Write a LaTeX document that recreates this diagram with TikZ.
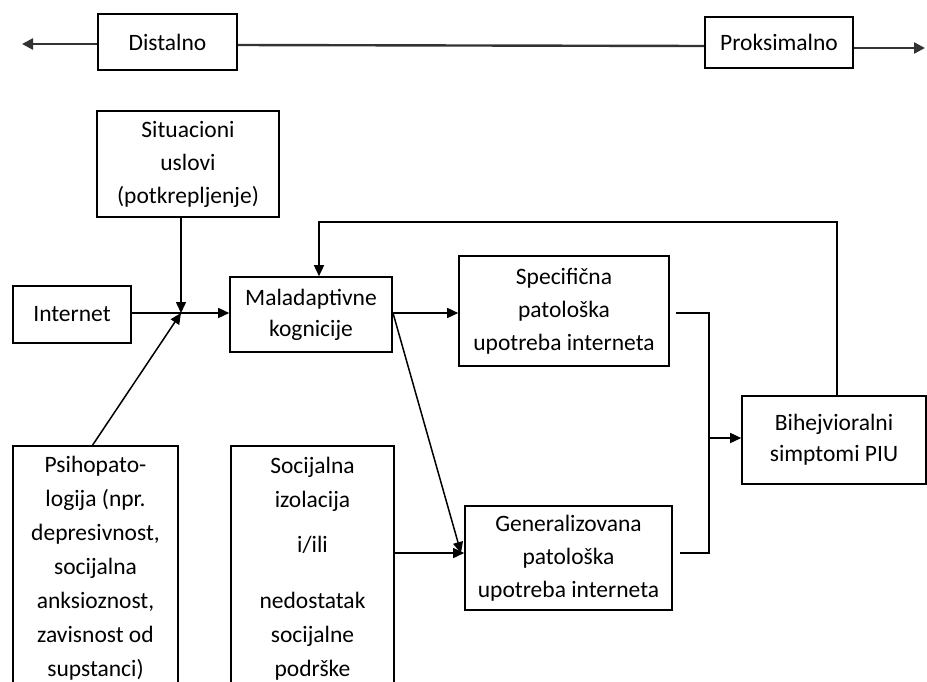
\documentclass[tikz,border=0pt]{standalone}
\usepackage{fontspec}
\setmainfont{Carlito}
\usetikzlibrary{arrows.meta,calc}
\begin{document}
\begin{tikzpicture}[x=1pt,y=-1pt,
 box/.style={draw, line width=1.6pt, align=center, inner sep=0pt, font=\fontsize{23.5}{33}\selectfont},
 arr/.style={line width=1.5pt, -{Triangle[length=11pt,width=10pt]}},
 ln/.style={line width=1.5pt},
 topln/.style={line width=2.4pt, draw=black!80}]
\useasboundingbox (0,0) rectangle (927,681);
\clip (0,0) rectangle (927,681);
% top scale
\node[box, minimum width=139pt, minimum height=56pt] (dist) at (167.5,42) {Distalno};
\node[box, minimum width=148pt, minimum height=51pt] (prox) at (779,42.5) {Proksimalno};
\coordinate (lt) at (22,44);
\coordinate (rt) at (925,48);
\draw[topln, -{Triangle[length=11pt,width=11pt]}] (dist.west |- lt) -- (lt);
\draw[topln] (dist.east |- 0,45) -- (prox.west |- 0,46);
\draw[topln, -{Triangle[length=11pt,width=11pt]}] (prox.east |- rt) -- (rt);
% boxes
\node[box, minimum width=182pt, minimum height=106pt] (sit) at (188,164) {Situacioni\\uslovi\\(potkrepljenje)};
\node[box, minimum width=118pt, minimum height=57pt] (inet) at (72,314.5) {Internet};
\node[box, minimum width=162pt, minimum height=75pt, font=\fontsize{23.5}{31}\selectfont] (mal) at (311,314.5) {Maladaptivne\\kognicije};
\node[box, minimum width=210pt, minimum height=110pt] (spec) at (564,311) {Specifična\\patološka\\upotreba interneta};
\node[box, minimum width=207pt, minimum height=104pt] (gen) at (568.5,558) {Generalizovana\\patološka\\upotreba interneta};
\node[box, minimum width=184pt, minimum height=88pt, font=\fontsize{23.5}{31}\selectfont] (bih) at (834,440) {Bihejvioralni\\simptomi PIU};
\node[box, minimum width=165pt, minimum height=245pt, font=\fontsize{23.5}{34}\selectfont] (psi) at (95.5,568.5) {Psihopato-\\logija (npr.\\depresivnost,\\socijalna\\anksioznost,\\zavisnost od\\supstanci)};
\node[box, minimum width=163pt, minimum height=245pt, font=\fontsize{23.5}{34}\selectfont] (soc) at (312.5,568.5) {Socijalna\\izolacija\\[11pt]i/ili\\[22pt]nedostatak\\socijalne\\podrške};
% connectors
\coordinate (J) at (181,313);
\draw[arr] (J |- sit.south) -- (J);
\draw[ln] (inet.east |- J) -- (J);
\draw[arr] (J) -- (J -| mal.west);
\coordinate (P) at (92,446);
\draw[arr] (P) -- (J);
% feedback
\coordinate (fbR) at (837,222);
\coordinate (fbL) at (319,222);
\draw[arr] (fbR |- bih.north) -- (fbR) -- (fbL) -- (fbL |- mal.north);
% maladaptivne outputs
\coordinate (M) at (393,313);
\draw[arr] (M) -- (M -| spec.west);
\coordinate (G) at (461,553);
\draw[arr] (M) -- (G);
\draw[arr] (soc.east |- G) -- (G -| gen.west);
% merge to behavioural symptoms
\coordinate (S1) at (676,313);
\coordinate (S2) at (680,553);
\coordinate (K) at (709,438);
\draw[ln] (S1) -- (S1 -| K) -- (S2 -| K) -- (S2);
\draw[arr] (K) -- (K -| bih.west);
\end{tikzpicture}
\end{document}
